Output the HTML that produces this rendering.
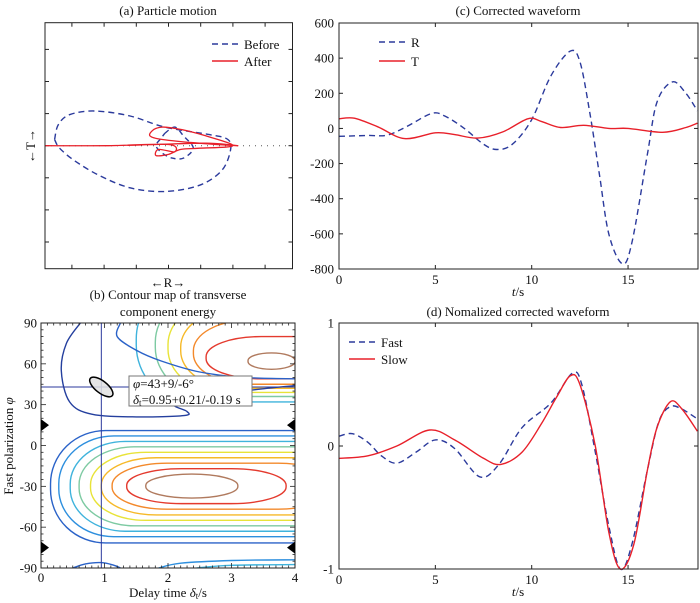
<!DOCTYPE html>
<html><head><meta charset="utf-8">
<style>
html,body{margin:0;padding:0;background:#fff;overflow:hidden;width:700px;height:603px;}
svg{display:block;font-family:"Liberation Serif",serif;}
</style></head>
<body>
<svg id="fig" width="700" height="603" viewBox="0 0 700 603" xmlns="http://www.w3.org/2000/svg"></svg>
<script>
// ---------- Panel (c) data ----------
const cR_t = [0,1.5,2.5,3.5,4.8,5.5,6.5,7.5,8.2,9,10,11,12,12.5,13,13.5,14,14.7,15.2,16,16.5,17.3,18,18.6];
const cR_v = [-45,-40,-38,10,85,70,0,-90,-120,-90,50,300,440,380,100,-250,-600,-770,-650,-150,150,265,200,100];
const cT_t = [0,0.8,2,3.4,5,6,7.2,8.5,9.8,10.5,11.5,12.7,14,15,16.8,18,18.6];
const cT_v = [55,58,10,-58,-25,-35,-55,-20,55,40,5,18,0,0,-22,5,30];
const cYTicks = [600,400,200,0,-200,-400,-600,-800];
const cXTicks = [0,5,10,15];
// ---------- Panel (d) data ----------
const dF_t = [0,0.7,1.5,2.2,3,4,5,6,7.3,8.3,9.5,11,12.1,12.6,13.3,14,14.6,15.2,16,16.6,17.2,17.8,18.6];
const dF_v = [0.08,0.1,0.03,-0.08,-0.14,-0.05,0.05,-0.02,-0.25,-0.15,0.15,0.35,0.59,0.5,-0.05,-0.65,-1,-0.8,-0.2,0.2,0.32,0.3,0.22];
const dS_t = [0,1.5,3,4.7,6,7.5,8.4,9.5,10.5,11.3,12,12.5,13.3,14,14.6,15.3,16,16.5,17.2,17.8,18.6];
const dS_v = [-0.1,-0.08,0,0.13,0.05,-0.1,-0.15,-0.05,0.18,0.4,0.57,0.5,0,-0.7,-1,-0.8,-0.2,0.15,0.36,0.3,0.12];
const dYTicks = [1,0,-1];
// ---------- Panel (a) data (normalized R,T) ----------
const aB_r = [-0.92,-0.89,-0.8,-0.6,-0.31,-0.03,0.33,0.48,0.5,0.43,0.25,-0.03,-0.31,-0.56,-0.76,-0.88,-0.92];
const aB_t = [0.05,0.17,0.25,0.28,0.24,0.15,0.09,0.05,-0.04,-0.2,-0.32,-0.37,-0.34,-0.24,-0.12,-0.02,0.05];
const aBi_r = [-0.03,0.05,0.12,0.2,0.12,0.03,-0.05,-0.1,-0.06,-0.03];
const aBi_t = [0.1,0.15,0.08,-0.02,-0.1,-0.1,-0.06,0,0.06,0.1];
const aA_r = [-1.0,-0.5,-0.1,0.3,0.56,0.25,-0.05,-0.15,-0.12,-0.05,0.05,0.15,0.3,0.52,0.25,0.1,0.0,-0.1,-0.08,0.05,0.0,-0.5,-1.0];
const aA_t = [0.0,0.0,0.01,0.02,0.0,0.02,0.05,0.08,0.13,0.15,0.14,0.12,0.08,0.0,-0.02,-0.03,-0.07,-0.08,-0.03,-0.05,0.01,0.0,0.0];
// ---------- Panel (b) contour data ----------
const lowLeft  = [1.65,1.35,1.12,0.95,0.78,0.6,0.46,0.28,0.15];
const lowRight = [3.1,3.86,4.6,5.0,5.4,5.8,6.2,6.6,7.0];
const lowTop   = [-21,-17,-13,-9,-5,-1,3,7,11];
const lowBot   = [-38.6,-42.7,-46.8,-51,-55,-59,-63,-67,-71.6];
const upLeft   = [3.26,2.6,2.4,2.2,2.0,1.8,1.5];
const upRight  = [4.0,5.0,5.3,5.6,5.9,6.2,6.6];
const upBot    = [56,49,45,42,39,36,32];
const upTop    = [68,80,92,100,106,112,120];
const levelColors = ['#b07a5e','#e43a2e','#f3892b','#f6b928','#e8e338','#7dcaa2','#3fb3dc','#2d8fde','#2a62c8','#243f9e'];
const wrap1_dt = [1.85,2.2,3,4], wrap1_phi = [-90,-86.5,-84.5,-84];
const wrap2_dt = [2.45,3,4],     wrap2_phi = [-90,-88,-87.5];
const bestDt = 0.95, bestPhi = 43;

const svg = document.getElementById('fig');
const NS = 'http://www.w3.org/2000/svg';
function mk(tag, attrs, parent){const e=document.createElementNS(NS,tag);for(const k in attrs)e.setAttribute(k,attrs[k]);(parent||svg).appendChild(e);return e;}
function smooth(pts){
  if(pts.length<2)return '';
  let d='M'+pts[0][0].toFixed(1)+','+pts[0][1].toFixed(1);
  for(let i=0;i<pts.length-1;i++){
    const p0=pts[Math.max(0,i-1)],p1=pts[i],p2=pts[i+1],p3=pts[Math.min(pts.length-1,i+2)];
    const c1=[p1[0]+(p2[0]-p0[0])/6,p1[1]+(p2[1]-p0[1])/6];
    const c2=[p2[0]-(p3[0]-p1[0])/6,p2[1]-(p3[1]-p1[1])/6];
    d+='C'+c1[0].toFixed(1)+','+c1[1].toFixed(1)+' '+c2[0].toFixed(1)+','+c2[1].toFixed(1)+' '+p2[0].toFixed(1)+','+p2[1].toFixed(1);
  }
  return d;
}
function text(x,y,s,attrs,name){const t=mk('text',Object.assign({x:x,y:y,'font-size':13,fill:'#111'},attrs||{}));t.innerHTML=s;return t;}

// ===== Panel (c) =====
(function(){
  const L=339,R=698,T=23,B=269;
  const xs=t=>L+t*(R-L)/18.63, ys=v=>T+(600-v)*(B-T)/1400;
  const g=mk('g',{});
  const clip=mk('clipPath',{id:'clipc'},g);mk('rect',{x:L,y:T,width:R-L,height:B-T},clip);
  cYTicks.forEach(v=>{const y=ys(v);const t=mk('line',{x1:L,x2:L+4,y1:y,y2:y,stroke:'#222'},g);
    mk('line',{x1:R-4,x2:R,y1:y,y2:y,stroke:'#222'},g);
    text(334,y+4.5,String(v),{'text-anchor':'end'},'y-tick-label');});
  cXTicks.forEach(v=>{const x=xs(v);mk('line',{x1:x,x2:x,y1:B,y2:B-4,stroke:'#222'},g);mk('line',{x1:x,x2:x,y1:T,y2:T+4,stroke:'#222'},g);
    text(x,284,String(v),{'text-anchor':'middle'},'x-tick-label');});
  const pr=mk('path',{d:smooth(cR_t.map((t,i)=>[xs(t),ys(cR_v[i])])),fill:'none',stroke:'#2b3a9c','stroke-width':1.4,'stroke-dasharray':'6,4','clip-path':'url(#clipc)'},g);
  
  const pt=mk('path',{d:smooth(cT_t.map((t,i)=>[xs(t),ys(cT_v[i])])),fill:'none',stroke:'#e8202a','stroke-width':1.4,'clip-path':'url(#clipc)'},g);
  
  const bx=mk('rect',{x:L,y:T,width:R-L,height:B-T,fill:'none',stroke:'#222','stroke-width':1},g);
  mk('line',{x1:379,x2:405,y1:42,y2:42,stroke:'#2b3a9c','stroke-width':1.4,'stroke-dasharray':'6,4'},g);
  text(411,47,'R',{},'legend-r');
  mk('line',{x1:379,x2:405,y1:61,y2:61,stroke:'#e8202a','stroke-width':1.4},g);
  text(411,66,'T',{},'legend-t');
  text(518,15,'(c) Corrected waveform',{'text-anchor':'middle'},'title-c');
  text(518,296,'<tspan font-style="italic">t</tspan>/s',{'text-anchor':'middle'},'x-axis-title-c');
})();

// ===== Panel (d) =====
(function(){
  const L=339,R=698,T=323,B=569;
  const xs=t=>L+t*(R-L)/18.63, ys=v=>T+(1-v)*(B-T)/2;
  const g=mk('g',{});
  const clip=mk('clipPath',{id:'clipd'},g);mk('rect',{x:L,y:T-2,width:R-L,height:B-T+4},clip);
  dYTicks.forEach(v=>{const y=ys(v);mk('line',{x1:L,x2:L+4,y1:y,y2:y,stroke:'#222'},g);mk('line',{x1:R-4,x2:R,y1:y,y2:y,stroke:'#222'},g);
    text(334,y+4.5,String(v),{'text-anchor':'end'},'y-tick-label');});
  cXTicks.forEach(v=>{const x=xs(v);mk('line',{x1:x,x2:x,y1:B,y2:B-4,stroke:'#222'},g);mk('line',{x1:x,x2:x,y1:T,y2:T+4,stroke:'#222'},g);
    text(x,584,String(v),{'text-anchor':'middle'},'x-tick-label');});
  const pf=mk('path',{d:smooth(dF_t.map((t,i)=>[xs(t),ys(dF_v[i])])),fill:'none',stroke:'#2b3a9c','stroke-width':1.4,'stroke-dasharray':'6,4','clip-path':'url(#clipd)'},g);
  
  const ps=mk('path',{d:smooth(dS_t.map((t,i)=>[xs(t),ys(dS_v[i])])),fill:'none',stroke:'#e8202a','stroke-width':1.4,'clip-path':'url(#clipd)'},g);
  
  mk('rect',{x:L,y:T,width:R-L,height:B-T,fill:'none',stroke:'#222'},g);
  mk('line',{x1:349,x2:375,y1:342,y2:342,stroke:'#2b3a9c','stroke-width':1.4,'stroke-dasharray':'6,4'},g);
  text(381,347,'Fast',{},'legend-fast');
  mk('line',{x1:349,x2:375,y1:359,y2:359,stroke:'#e8202a','stroke-width':1.4},g);
  text(381,364,'Slow',{},'legend-slow');
  text(518,316,'(d) Nomalized corrected waveform',{'text-anchor':'middle'},'title-d');
  text(518,596,'<tspan font-style="italic">t</tspan>/s',{'text-anchor':'middle'},'x-axis-title-d');
})();

// ===== Panel (a) =====
(function(){
  const L=45,R=292.5,T=22.7,B=268.7,cx=168.5,cy=145.7,s=123.8;
  const xs=r=>cx+r*s, ys=t=>cy-t*s;
  const g=mk('g',{});
  const clip=mk('clipPath',{id:'clipa'},g);mk('rect',{x:L,y:T,width:R-L,height:B-T},clip);
  for(let k=-3;k<=3;k++){const x=cx+k*32.2,y=cy+k*32.1;
    mk('line',{x1:x,x2:x,y1:B,y2:B-4,stroke:'#222'},g);mk('line',{x1:x,x2:x,y1:T,y2:T+4,stroke:'#222'},g);
    mk('line',{x1:L,x2:L+4,y1:y,y2:y,stroke:'#222'},g);mk('line',{x1:R-4,x2:R,y1:y,y2:y,stroke:'#222'},g);}
  mk('line',{x1:L,x2:R,y1:cy,y2:cy,stroke:'#555','stroke-width':1,'stroke-dasharray':'1,5'},g);
  const b1=mk('path',{d:smooth(aB_r.map((r,i)=>[xs(r),ys(aB_t[i])])),fill:'none',stroke:'#2b3a9c','stroke-width':1.4,'stroke-dasharray':'6,4'},g);
  
  mk('path',{d:smooth(aBi_r.map((r,i)=>[xs(r),ys(aBi_t[i])])),fill:'none',stroke:'#2b3a9c','stroke-width':1.4,'stroke-dasharray':'5,4'},g);
  const a1=mk('path',{d:smooth(aA_r.map((r,i)=>[xs(r),ys(aA_t[i])])),fill:'none',stroke:'#e8202a','stroke-width':1.3,'clip-path':'url(#clipa)'},g);
  
  mk('rect',{x:L,y:T,width:R-L,height:B-T,fill:'none',stroke:'#222'},g);
  mk('line',{x1:212,x2:238,y1:44,y2:44,stroke:'#2b3a9c','stroke-width':1.4,'stroke-dasharray':'6,4'},g);
  text(244,49,'Before',{},'legend-before');
  mk('line',{x1:212,x2:238,y1:61,y2:61,stroke:'#e8202a','stroke-width':1.4},g);
  text(244,66,'After',{},'legend-after');
  text(168,15,'(a) Particle motion',{'text-anchor':'middle'},'title-a');
  text(168,287,'←R→',{'text-anchor':'middle'},'x-axis-title-a');
  text(0,0,'←T→',{'text-anchor':'middle',transform:'translate(35,146) rotate(-90)'},'y-axis-title-a');
})();

// ===== Panel (b) =====
(function(){
  const L=41,R=295,T=323,B=568;
  const sx=(R-L)/4, sy=(B-T)/180;
  const xs=d=>L+d*sx, ys=p=>T+(90-p)*sy;
  const g=mk('g',{});
  const clip=mk('clipPath',{id:'clipb'},g);mk('rect',{x:L,y:T,width:R-L,height:B-T},clip);
  const cg=mk('g',{'clip-path':'url(#clipb)'},g);
  function rr(l,r,top,bot,color,name){
    const x=xs(l),w=xs(r)-x,y=ys(top),h=ys(bot)-y;
    const rxp=Math.min(w/2,55), ryp=h/2*0.95;
    const e=mk('rect',{x:x,y:y,width:w,height:h,rx:rxp,ry:ryp,fill:'none',stroke:color,'stroke-width':1.4},cg);
    
  }
  lowLeft.forEach((lx,i)=>rr(lx,lowRight[i],lowTop[i],lowBot[i],levelColors[i],'contour-lower'));
  upLeft.forEach((lx,i)=>rr(lx,upRight[i],upTop[i],upBot[i],levelColors[i],'contour-upper'));
  const w1=mk('path',{d:smooth(wrap1_dt.map((d,i)=>[xs(d),ys(wrap1_phi[i])])),fill:'none',stroke:'#2d8fde','stroke-width':1.4},cg);
  
  const w2=mk('path',{d:smooth(wrap2_dt.map((d,i)=>[xs(d),ys(wrap2_phi[i])])),fill:'none',stroke:'#3fb3dc','stroke-width':1.4},cg);
  
  const ob=[[0.62,90],[0.4,75],[0.32,55],[0.45,32],[0.8,23],[1.5,21],[2.25,22],[2.3,25],[2.1,30],[2.5,34],[3.2,40],[4,44]];
  mk('path',{d:smooth(ob.map(p=>[xs(p[0]),ys(p[1])])),fill:'none',stroke:'#243f9e','stroke-width':1.4},cg);
  const ob2=[[1.25,90],[1.2,80],[1.5,70],[1.9,62],[2.5,54],[3.2,50],[4,49]];
  mk('path',{d:smooth(ob2.map(p=>[xs(p[0]),ys(p[1])])),fill:'none',stroke:'#2a62c8','stroke-width':1.4},cg);
  const bb=[[0.5,-90],[0.7,-87],[0.95,-86],[1.15,-88],[1.25,-90]];
  mk('path',{d:smooth(bb.map(p=>[xs(p[0]),ys(p[1])])),fill:'none',stroke:'#2a62c8','stroke-width':1.4},cg);
  const vl=mk('line',{x1:xs(bestDt),x2:xs(bestDt),y1:T,y2:B,stroke:'#2b3a9c','stroke-width':1},g);
  
  const hl=mk('line',{x1:L,x2:R,y1:ys(bestPhi),y2:ys(bestPhi),stroke:'#2b3a9c','stroke-width':1},g);
  
  const ce=mk('ellipse',{cx:xs(bestDt),cy:ys(bestPhi),rx:14,ry:6,transform:'rotate(38 '+xs(bestDt)+' '+ys(bestPhi)+')',fill:'rgba(225,225,225,0.85)',stroke:'#000','stroke-width':1.5},g);
  
  for(let k=0;k<=40;k++){const x=xs(k/10),len=(k%10===0)?5:2.5;mk('line',{x1:x,x2:x,y1:B,y2:B-len,stroke:'#222','stroke-width':0.8},g);mk('line',{x1:x,x2:x,y1:T,y2:T+len,stroke:'#222','stroke-width':0.8},g);}
  for(let p=-90;p<=90;p+=5){const y=ys(p),len=(p%30===0)?5:2.5;mk('line',{x1:L,x2:L+len,y1:y,y2:y,stroke:'#222','stroke-width':0.8},g);mk('line',{x1:R-len,x2:R,y1:y,y2:y,stroke:'#222','stroke-width':0.8},g);}
  [90,60,30,0,-30,-60,-90].forEach(p=>text(37,ys(p)+4.5,String(p),{'text-anchor':'end'},'y-tick-label'));
  [0,1,2,3,4].forEach(d=>text(xs(d),582,String(d),{'text-anchor':'middle'},'x-tick-label'));
  mk('rect',{x:L,y:T,width:R-L,height:B-T,fill:'none',stroke:'#222'},g);
  [15,-75].forEach(p=>{const y=ys(p);
    mk('polygon',{points:(L)+','+(y-6)+' '+(L+8)+','+y+' '+(L)+','+(y+6),fill:'#000'},g);
    mk('polygon',{points:(R)+','+(y-6)+' '+(R-8)+','+y+' '+(R)+','+(y+6),fill:'#000'},g);});
  const tb=mk('rect',{x:129,y:376,width:123,height:30,fill:'#fff',stroke:'#777','stroke-width':1},g);
  
  text(133,388,'<tspan font-style="italic">φ</tspan>=43+9/-6°',{},'phi-result');
  text(133,404,'<tspan font-style="italic">δ</tspan><tspan font-size="9" dy="2">t</tspan><tspan dy="-2">=0.95+0.21/-0.19 s</tspan>',{},'dt-result');
  text(168,299,'(b) Contour map of transverse',{'text-anchor':'middle'},'title-b-line1');
  text(168,316,'component energy',{'text-anchor':'middle'},'title-b-line2');
  text(168,597,'Delay time <tspan font-style="italic">δ</tspan><tspan font-size="9" dy="2">t</tspan><tspan dy="-2">/s</tspan>',{'text-anchor':'middle'},'x-axis-title-b');
  text(0,0,'Fast polarization <tspan font-style="italic">φ</tspan>',{'text-anchor':'middle',transform:'translate(13,446) rotate(-90)'},'y-axis-title-b');
})();
</script>
</body></html>
